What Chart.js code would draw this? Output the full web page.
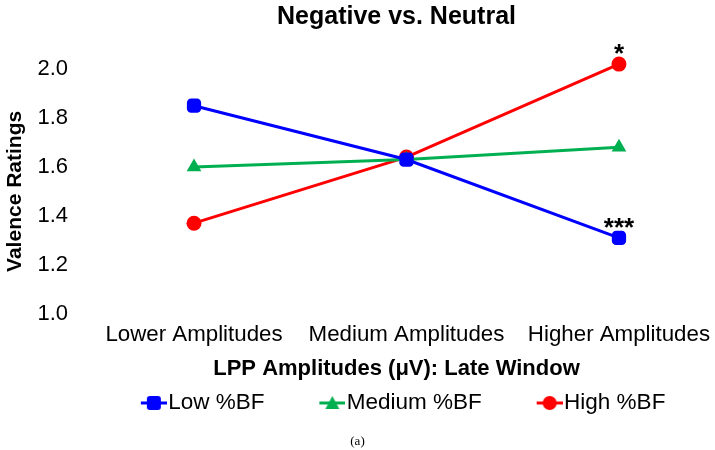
<!DOCTYPE html>
<html>
<head>
<meta charset="utf-8">
<script src="https://cdn.jsdelivr.net/npm/chart.js@4/dist/chart.umd.min.js"></script>
<style>
  html, body { margin: 0; padding: 0; background: #fff; overflow: hidden; }
  #wrap { width: 715px; height: 450px; }
</style>
</head>
<body>
<div id="wrap"><canvas id="myChart"></canvas></div>
<script>
// Datos
const categorias = ["Lower Amplitudes", "Medium Amplitudes", "Higher Amplitudes"]
const bajoBF = [1.85, 1.63, 1.31]
const medioBF = [1.60, 1.63, 1.68]
const altoBF = [1.37, 1.64, 2.02]
const sigBajo = ["", "", "***"]
const sigMedio = ["", "", ""]
const sigAlto = ["", "", "*"]
const ticksY = [1.0, 1.2, 1.4, 1.6, 1.8, 2.0]

const fuente = "'Liberation Sans', Arial, sans-serif"
const anchoIcono = 29.4

// icono de leyenda: linea con marcador (espacio vacio a la izquierda)
function iconoLeyenda(color, estilo) {
    const c = document.createElement("canvas")
    c.width = Math.round(anchoIcono + 20)
    c.height = 16
    const ctx = c.getContext("2d")
    const x0 = c.width - 26
    ctx.strokeStyle = color
    ctx.fillStyle = color
    ctx.lineWidth = 3
    ctx.beginPath()
    ctx.moveTo(x0, 8)
    ctx.lineTo(x0 + 26, 8)
    ctx.stroke()
    ctx.beginPath()
    if (estilo == "rectRounded") {
        ctx.roundRect(x0 + 6, 1, 14, 14, 3)
    } else if (estilo == "triangle") {
        ctx.moveTo(x0 + 13, 1)
        ctx.lineTo(x0 + 20, 14)
        ctx.lineTo(x0 + 6, 14)
        ctx.closePath()
    } else {
        ctx.arc(x0 + 13, 8, 7, 0, Math.PI * 2)
    }
    ctx.fill()
    return c
}

const series = [
    { label: "Low %BF", data: bajoBF, color: "#0000FF", estilo: "rectRounded", sig: sigBajo, radio: 8.3 },
    { label: "Medium %BF", data: medioBF, color: "#00B050", estilo: "triangle", sig: sigMedio, radio: 8.5 },
    { label: "High %BF", data: altoBF, color: "#FF0000", estilo: "circle", sig: sigAlto, radio: 7.5 }
]

const pluginSig = {
    id: "significancia",
    afterDatasetsDraw(chart) {
        const ctx = chart.ctx
        ctx.save()
        ctx.fillStyle = "#000"
        ctx.font = "bold 26px " + fuente
        ctx.textAlign = "center"
        ctx.textBaseline = "alphabetic"
        chart.data.datasets.forEach((ds, i) => {
            const meta = chart.getDatasetMeta(i)
            ds.sig.forEach((s, j) => {
                if (s) {
                    const p = meta.data[j]
                    ctx.fillText(s, p.x, p.y - 2)
                }
            })
        })
        ctx.restore()
    }
}

const config = {
    type: "line",
    data: {
        datasets: series.map(s => ({
            label: s.label,
            data: s.data.map((v, i) => ({ x: i, y: v })),
            sig: s.sig,
            borderColor: s.color,
            backgroundColor: s.color,
            borderWidth: 3,
            pointStyle: s.estilo,
            pointRadius: s.radio,
            pointHoverRadius: s.radio,
            pointBorderWidth: 0,
            icono: iconoLeyenda(s.color, s.estilo),
            clip: false,
            tension: 0
        }))
    },
    options: {
        responsive: true,
        maintainAspectRatio: false,
        animation: false,
        layout: { padding: 0, autoPadding: false },
        plugins: {
            tooltip: { enabled: false },
            title: {
                display: true,
                text: "Negative vs. Neutral",
                color: "#000",
                fullSize: false,
                font: { family: fuente, size: 25, weight: "bold" },
                padding: { top: 2, bottom: 37 }
            },
            legend: {
                position: "bottom",
                fullSize: false,
                align: "center",
                labels: {
                    usePointStyle: true,
                    pointStyleWidth: anchoIcono,
                    color: "#000",
                    font: { family: fuente, size: 22.5 },
                    padding: 41.6,
                    generateLabels(chart) {
                        return chart.data.datasets.map((ds, i) => ({
                            text: ds.label,
                            pointStyle: ds.icono,
                            fontColor: "#000",
                            datasetIndex: i,
                            hidden: false,
                            lineWidth: 0
                        }))
                    }
                }
            },
            subtitle: {
                display: true,
                position: "bottom",
                text: "(a)",
                color: "#000",
                font: { family: "'Liberation Serif', serif", size: 13 },
                padding: { top: 9.7, bottom: 0.5 }
            }
        },
        scales: {
            x: {
                type: "linear",
                min: -0.546,
                max: 2.452,
                grid: { display: false, drawTicks: false },
                border: { display: false },
                afterBuildTicks(scale) {
                    scale.ticks = categorias.map((c, i) => ({ value: i }))
                },
                afterFit(scale) {
                    scale.paddingLeft = 0
                    scale.paddingRight = 0
                },
                ticks: {
                    color: "#000",
                    font: { family: fuente, size: 22.3 },
                    maxRotation: 0,
                    autoSkip: false,
                    padding: 8,
                    callback: v => categorias[v]
                },
                title: {
                    display: true,
                    text: "LPP Amplitudes (μV): Late Window",
                    color: "#000",
                    font: { family: fuente, size: 22, weight: "bold", lineHeight: 0.5 },
                    padding: { top: 6.7, bottom: -24.1 }
                }
            },
            y: {
                min: 1.0,
                max: 2.0,
                grid: { display: false, drawTicks: false },
                border: { display: false },
                afterBuildTicks(scale) {
                    scale.ticks = ticksY.map(v => ({ value: v }))
                },
                afterFit(scale) {
                    scale.width = 78
                },
                ticks: {
                    color: "#000",
                    font: { family: fuente, size: 22 },
                    padding: 10,
                    callback: v => Number(v).toFixed(1)
                },
                title: {
                    display: true,
                    text: "Valence Ratings",
                    color: "#000",
                    font: { family: fuente, size: 21, weight: "bold" },
                    padding: { top: 2.4, bottom: 0 }
                }
            }
        }
    },
    plugins: [pluginSig]
}

const myChart = new Chart(document.querySelector("#myChart").getContext("2d"), config)
</script>
</body>
</html>
